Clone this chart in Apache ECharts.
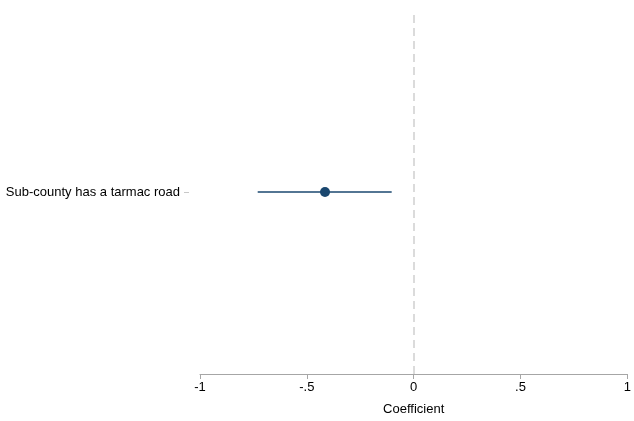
<!DOCTYPE html>
<html>
<head>
<meta charset="utf-8">
<script src="https://cdn.jsdelivr.net/npm/echarts@6/dist/echarts.min.js"></script>
<style>
  html, body { margin: 0; padding: 0; background: #fff; }
  #chart { width: 634px; height: 421px; }
</style>
</head>
<body>
<div id="chart"></div>
<script>
// Coefficient estimate with 95% confidence interval
const categories = ['Sub-county has a tarmac road'];
const estimates = [-0.415];
const ciLower = [-0.73];
const ciUpper = [-0.103];
const xTicks = [-1, -0.5, 0, 0.5, 1];

const navy = '#1a476f';
const font = 'Liberation Sans, Arial, sans-serif';

function fmtTick(v) {
  if (v === 0) return '0';
  return String(v).replace(/^(-?)0\./, '$1.');
}

const chart = echarts.init(document.getElementById('chart'));
chart.setOption({
  animation: false,
  grid: { left: 200, right: 1, top: 10, bottom: 40, containLabel: false },
  xAxis: {
    type: 'value',
    min: xTicks[0], max: xTicks[xTicks.length - 1], interval: 0.5,
    name: 'Coefficient',
    nameLocation: 'middle',
    nameGap: 29,
    nameTextStyle: { fontFamily: font, fontSize: 13, color: '#000' },
    axisLine: { show: true, onZero: false, lineStyle: { color: '#a6a6a6', width: 1 } },
    axisTick: { show: true, length: 5, lineStyle: { color: '#a6a6a6' } },
    axisLabel: {
      margin: 7,
      fontFamily: font, fontSize: 13, color: '#000',
      formatter: fmtTick,
      showMaxLabel: true, showMinLabel: true
    },
    splitLine: { show: false }
  },
  yAxis: {
    type: 'category',
    data: categories,
    offset: 11,
    axisLine: { show: false, onZero: false },
    axisTick: { show: true, length: 5, alignWithLabel: true, lineStyle: { color: '#c8c8c8' } },
    axisLabel: { margin: 9, fontFamily: font, fontSize: 13, color: '#000' },
    splitLine: { show: false }
  },
  series: [
    {
      type: 'custom',
      data: categories.map((c, i) => [ciLower[i], ciUpper[i], i]),
      encode: { x: [0, 1], y: 2 },
      renderItem: function (params, api) {
        const a = api.coord([api.value(0), api.value(2)]);
        const b = api.coord([api.value(1), api.value(2)]);
        return {
          type: 'line',
          shape: { x1: a[0], y1: a[1], x2: b[0], y2: b[1] },
          style: { stroke: navy, lineWidth: 1.6 }
        };
      },
      z: 2
    },
    {
      type: 'scatter',
      data: categories.map((c, i) => [estimates[i], i]),
      symbol: 'circle',
      symbolSize: 10,
      itemStyle: { color: navy, opacity: 1 },
      z: 3,
      markLine: {
        silent: true,
        symbol: ['none', 'none'],
        label: { show: false },
        lineStyle: { color: '#cfcfcf', type: [8, 5], width: 1.5 },
        data: [{ xAxis: 0 }]
      }
    }
  ]
});
</script>
</body>
</html>
